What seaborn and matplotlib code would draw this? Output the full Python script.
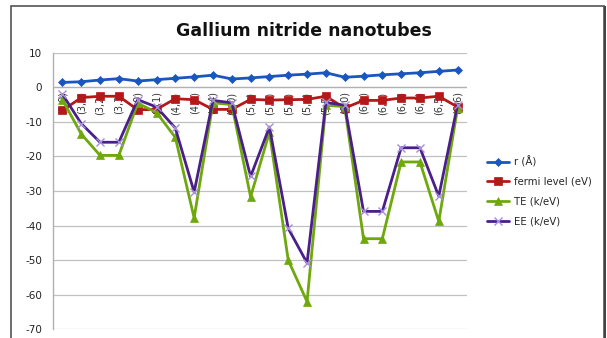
import matplotlib
matplotlib.use("Agg")
import matplotlib.pyplot as plt
from matplotlib.patches import Rectangle
import seaborn as sns
import numpy as np

categories = ["(3,0)", "(3,1)", "(3,2)", "(3,3)", "(4,0)", "(4,1)", "(4,2)", "(4,3)",
              "(4,4)", "(5,0)", "(5,1)", "(5,2)", "(5,3)", "(5,4)", "(5,5)", "(6,0)",
              "(6,1)", "(6,2)", "(6,3)", "(6,4)", "(6,5)", "(6,6)"]
r_vals = [1.4, 1.6, 2.1, 2.5, 1.8, 2.2, 2.6, 3.0, 3.5, 2.4, 2.7, 3.1, 3.5, 3.8, 4.2,
          2.9, 3.2, 3.6, 3.9, 4.2, 4.6, 5.0]
fermi_vals = [-6.7, -3.0, -2.6, -2.6, -6.5, -6.4, -3.3, -3.6, -6.4, -6.4, -3.5, -3.7,
              -3.6, -3.5, -2.6, -6.0, -3.8, -3.8, -3.1, -3.1, -2.6, -5.7]
te_vals = [-3.6, -13.5, -19.7, -19.7, -4.6, -7.3, -14.5, -37.8, -4.5, -5.0, -31.7, -13.0,
           -50.0, -62.0, -5.2, -5.6, -43.8, -43.8, -21.6, -21.6, -38.8, -6.0]
ee_vals = [-2.0, -10.5, -15.9, -15.9, -3.6, -5.7, -11.8, -30.3, -3.8, -4.5, -25.8, -11.5,
           -40.8, -50.8, -4.4, -5.2, -35.9, -35.9, -17.5, -17.5, -31.5, -5.0]
series_labels = ["r (Å)", "fermi level (eV)", "TE (k/eV)", "EE (k/eV)"]
y_ticks = [10, 0, -10, -20, -30, -40, -50, -60, -70]
title = "Gallium nitride nanotubes"

sns.set_theme(style="white")
plt.rcParams["font.family"] = ["DejaVu Sans"]

W, H = 607, 338
fig = plt.figure(figsize=(W / 100, H / 100), dpi=100)
ax = fig.add_axes([53 / W, 1 - 329.3 / H, (467 - 53) / W, (329.3 - 52.7) / H])

x = np.arange(len(categories))
styles = [
    (r_vals, "#1a56c0", "D", 4.2, "#1a56c0"),
    (fermi_vals, "#b51818", "s", 6.3, "#b51818"),
    (te_vals, "#6fa80c", "^", 6.3, "#6fa80c"),
    (ee_vals, "#4a1f8a", "x", 5.5, "#a58fd6"),
]
for (vals, col, mk, ms, mcol), lab in zip(styles, series_labels):
    sns.lineplot(x=x, y=vals, ax=ax, color=col, linewidth=2, marker=mk,
                 markersize=ms, markerfacecolor=mcol, markeredgecolor=mcol,
                 markeredgewidth=1.0 if mk == "x" else 0.5, label=lab, zorder=3)

ax.set_xlim(-0.5, len(categories) - 0.5)
ax.set_ylim(-70, 10)
ax.set_yticks(y_ticks)
ax.set_yticklabels([str(t) for t in y_ticks], fontsize=7.5, color="#222222")
ax.tick_params(axis="y", length=0, pad=8)
ax.set_xticks([])
ax.grid(axis="y", color="#c0c0c0", linewidth=0.9)
ax.set_axisbelow(True)
for s in ["top", "right", "bottom"]:
    ax.spines[s].set_visible(False)
ax.spines["left"].set_color("#b0b0b0")
ax.spines["left"].set_linewidth(1.0)
ax.axhline(0, color="#b0b0b0", linewidth=0.9, zorder=1)

for xi, lab in zip(x, categories):
    ax.annotate(lab, xy=(xi, 0), xytext=(0, -3), textcoords="offset points",
                rotation=90, ha="center", va="top", fontsize=7, color="#333333",
                zorder=1.5)

leg = ax.legend(loc="center left", bbox_to_anchor=(478 / W, 1 - 191 / H),
                bbox_transform=fig.transFigure, frameon=False, fontsize=7.3,
                handlelength=2.2, handletextpad=0.45, labelspacing=0.95)

fig.text(304 / W, 1 - 31 / H, title, ha="center", va="center", fontsize=12.5,
         fontweight="bold", color="#111111")

fig.patches.append(Rectangle((11 / W, -0.1), (604 - 11) / W, 1.1 - 6 / H,
                             transform=fig.transFigure, fill=False,
                             edgecolor="#555555", linewidth=1.2))
fig.patches.append(Rectangle((604 / W, -0.1), 2 / W, 1.1 - 6 / H,
                             transform=fig.transFigure, fill=True,
                             facecolor="#444444", edgecolor="none"))

fig.savefig("out.png", dpi=100)
